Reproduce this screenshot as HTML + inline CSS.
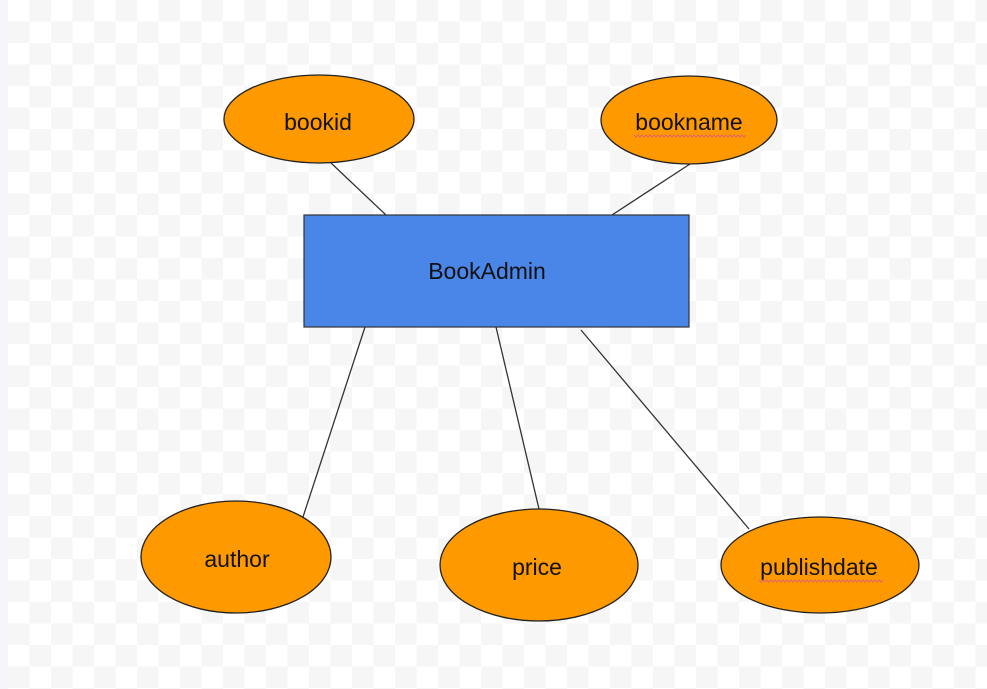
<!DOCTYPE html>
<html><head><style>
body{margin:0;width:987px;height:689px;overflow:hidden;background:#fff;}
.bg{position:absolute;left:8px;top:0;width:979px;height:689px;
background-color:#fff;
background-image:linear-gradient(45deg,#f6f6f6 25%,transparent 25%,transparent 75%,#f6f6f6 75%),linear-gradient(45deg,#f6f6f6 25%,transparent 25%,transparent 75%,#f6f6f6 75%);
background-size:43px 43px;background-position:0 0,21.5px 21.5px;}
.strip{position:absolute;left:0;top:0;width:8px;height:689px;background:#f4f6f9;}
svg{position:absolute;left:0;top:0;}
text{font-family:"Liberation Sans",sans-serif;font-size:23px;fill:#111;text-anchor:middle;}
</style></head><body>
<div class="strip"></div><div class="bg"></div>
<svg width="987" height="689">
<g stroke="#333" stroke-width="1.3">
<line x1="331" y1="163" x2="386" y2="215"/>
<line x1="690" y1="164" x2="612" y2="215"/>
<line x1="365" y1="327" x2="303" y2="517"/>
<line x1="496" y1="327" x2="539" y2="509"/>
<line x1="581" y1="330" x2="749" y2="529"/>
</g>
<rect x="304" y="215" width="385" height="112" fill="#4a86e8" stroke="#333" stroke-width="1.2"/>
<g fill="#ff9900" stroke="#222" stroke-width="1.3">
<ellipse cx="319" cy="119" rx="95" ry="44"/>
<ellipse cx="689" cy="120" rx="88" ry="44"/>
<ellipse cx="236" cy="557" rx="95" ry="56"/>
<ellipse cx="539" cy="565" rx="99" ry="56"/>
<ellipse cx="820" cy="565" rx="99" ry="48"/>
</g>
<text x="318" y="130">bookid</text>
<text x="689" y="130">bookname</text>
<text x="487" y="279">BookAdmin</text>
<text x="237" y="567">author</text>
<text x="537" y="575">price</text>
<text x="819" y="575">publishdate</text>
<g stroke="#e06666" stroke-width="1" fill="none">
<path d="M634 135 l2 2 l2 -2 l2 2 l2 -2 l2 2 l2 -2 l2 2 l2 -2 l2 2 l2 -2 l2 2 l2 -2 l2 2 l2 -2 l2 2 l2 -2 l2 2 l2 -2 l2 2 l2 -2 l2 2 l2 -2 l2 2 l2 -2 l2 2 l2 -2 l2 2 l2 -2 l2 2 l2 -2 l2 2 l2 -2 l2 2 l2 -2 l2 2 l2 -2 l2 2 l2 -2 l2 2 l2 -2 l2 2 l2 -2 l2 2 l2 -2 l2 2 l2 -2 l2 2 l2 -2 l2 2 l2 -2 l2 2 l2 -2 l2 2 l2 -2 l2 2 l2 -2"/>
<path d="M759 580 l2 2 l2 -2 l2 2 l2 -2 l2 2 l2 -2 l2 2 l2 -2 l2 2 l2 -2 l2 2 l2 -2 l2 2 l2 -2 l2 2 l2 -2 l2 2 l2 -2 l2 2 l2 -2 l2 2 l2 -2 l2 2 l2 -2 l2 2 l2 -2 l2 2 l2 -2 l2 2 l2 -2 l2 2 l2 -2 l2 2 l2 -2 l2 2 l2 -2 l2 2 l2 -2 l2 2 l2 -2 l2 2 l2 -2 l2 2 l2 -2 l2 2 l2 -2 l2 2 l2 -2 l2 2 l2 -2 l2 2 l2 -2 l2 2 l2 -2 l2 2 l2 -2 l2 2 l2 -2 l2 2 l2 -2 l2 2 l2 -2"/>
</g>
</svg>
</body></html>
